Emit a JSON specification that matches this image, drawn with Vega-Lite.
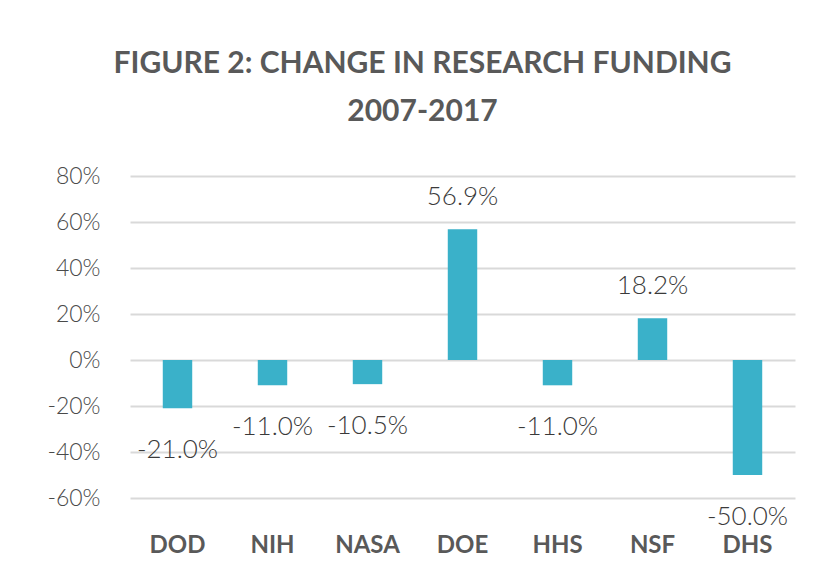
{
  "$schema": "https://vega.github.io/schema/vega-lite/v6.json",
  "width": 665,
  "height": 322,
  "autosize": {"type": "none"},
  "padding": {"left": 130, "top": 176, "right": 36, "bottom": 87},
  "background": "#ffffff",
  "title": {
    "text": ["FIGURE 2: CHANGE IN RESEARCH FUNDING", "2007-2017"],
    "anchor": "middle",
    "dx": -40,
    "offset": 38,
    "font": "Lato",
    "fontWeight": "bold",
    "fontSize": 30,
    "lineHeight": 48,
    "color": "#595959"
  },
  "data": {
    "values": [
      {"agency": "DOD", "change": -21.0},
      {"agency": "NIH", "change": -11.0},
      {"agency": "NASA", "change": -10.5},
      {"agency": "DOE", "change": 56.9},
      {"agency": "HHS", "change": -11.0},
      {"agency": "NSF", "change": 18.2},
      {"agency": "DHS", "change": -50.0}
    ]
  },
  "transform": [
    {"calculate": "(datum.change < 0 ? '-' : '') + format(abs(datum.change), '.1f') + '%'", "as": "label"}
  ],
  "encoding": {
    "x": {
      "field": "agency",
      "type": "nominal",
      "sort": null,
      "scale": {"paddingInner": 0.69, "paddingOuter": 0.345},
      "axis": {
        "title": null,
        "domain": false,
        "ticks": false,
        "labelAngle": 0,
        "labelFont": "Lato",
        "labelFontWeight": "bold",
        "labelFontSize": 24,
        "labelColor": "#595959",
        "labelPadding": 35
      }
    },
    "y": {
      "field": "change",
      "type": "quantitative",
      "scale": {"domain": [-60, 80], "nice": false},
      "axis": {
        "title": null,
        "values": [-60, -40, -20, 0, 20, 40, 60, 80],
        "labelExpr": "datum.value + '%'",
        "domain": false,
        "ticks": false,
        "labelFont": "Lato",
        "labelFontWeight": 300,
        "labelFontSize": 23,
        "labelColor": "#4a4a4a",
        "labelPadding": 30,
        "gridColor": "#d9d9d9",
        "gridWidth": 2
      }
    }
  },
  "layer": [
    {"mark": {"type": "bar", "color": "#3AB1C9"}},
    {
      "transform": [{"filter": "datum.change >= 0"}],
      "mark": {"type": "text", "dy": -32, "baseline": "middle", "font": "Lato", "fontWeight": 300, "fontSize": 26, "color": "#3a3a3a"},
      "encoding": {"text": {"field": "label", "type": "nominal"}}
    },
    {
      "transform": [{"filter": "datum.change < 0"}],
      "mark": {"type": "text", "dy": 42, "baseline": "middle", "font": "Lato", "fontWeight": 300, "fontSize": 26, "color": "#3a3a3a"},
      "encoding": {"text": {"field": "label", "type": "nominal"}}
    }
  ],
  "config": {"view": {"stroke": null}}
}
